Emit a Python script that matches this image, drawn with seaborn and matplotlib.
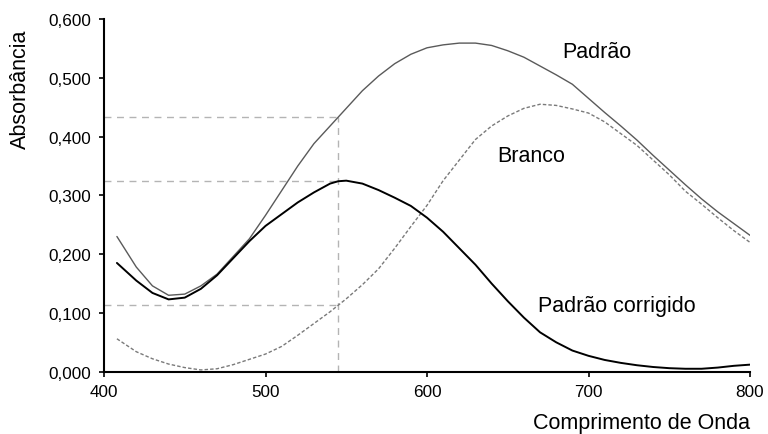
import numpy as np
import pandas as pd
import matplotlib
matplotlib.use("Agg")
import matplotlib.pyplot as plt
import seaborn as sns
from matplotlib.ticker import FuncFormatter

# Wavelength grid (nm)
comprimento = [408, 420, 430, 440, 450, 460, 470, 480, 490, 500, 510, 520, 530, 540,
               545, 550, 560, 570, 580, 590, 600, 610, 620, 630, 640, 650, 660, 670,
               680, 690, 700, 710, 720, 730, 740, 750, 760, 770, 780, 790, 800]

# Absorbance of the standard
padrao = [0.230, 0.178, 0.146, 0.130, 0.132, 0.146, 0.166, 0.196, 0.226, 0.266, 0.308,
          0.350, 0.388, 0.418, 0.433, 0.448, 0.478, 0.503, 0.524, 0.540, 0.551, 0.556,
          0.559, 0.559, 0.555, 0.546, 0.535, 0.520, 0.505, 0.489, 0.465, 0.441, 0.418,
          0.394, 0.368, 0.343, 0.318, 0.294, 0.272, 0.252, 0.232]

# Absorbance of the blank
branco = [0.056, 0.034, 0.022, 0.013, 0.007, 0.003, 0.005, 0.012, 0.021, 0.030, 0.043,
          0.062, 0.082, 0.102, 0.113, 0.124, 0.148, 0.175, 0.210, 0.247, 0.283, 0.325,
          0.360, 0.395, 0.418, 0.435, 0.448, 0.455, 0.453, 0.447, 0.440, 0.425, 0.405,
          0.385, 0.360, 0.335, 0.307, 0.285, 0.262, 0.240, 0.220]

# Blank-corrected standard
corrigido = [0.185, 0.155, 0.134, 0.123, 0.126, 0.141, 0.164, 0.193, 0.222, 0.248, 0.268,
             0.288, 0.305, 0.320, 0.324, 0.325, 0.320, 0.309, 0.296, 0.282, 0.262, 0.238,
             0.210, 0.182, 0.150, 0.120, 0.092, 0.067, 0.050, 0.036, 0.027, 0.020, 0.015,
             0.011, 0.008, 0.006, 0.005, 0.005, 0.007, 0.010, 0.012]

# Wavelength chosen for the reading
lambda_leitura = 545

x_ticks = [400, 500, 600, 700, 800]
y_ticks = [0.0, 0.1, 0.2, 0.3, 0.4, 0.5, 0.6]

sns.set_theme(style="ticks")
plt.rcParams["font.family"] = ["Liberation Sans", "DejaVu Sans"]
plt.rcParams["text.color"] = "black"

df = pd.DataFrame({"comprimento": comprimento, "padrao": padrao,
                   "branco": branco, "corrigido": corrigido})

fig = plt.figure(figsize=(7.68, 4.35), dpi=100)
ax = fig.add_axes([104 / 768, 1 - 372.7 / 435, (750 - 104) / 768, (372.7 - 20) / 435])

# Reference lines at the reading wavelength
i_ref = comprimento.index(lambda_leitura)
ref_vals = [padrao[i_ref], corrigido[i_ref], branco[i_ref]]
ref_kw = dict(color="#b4b4b4", lw=1.0, dashes=(5, 4), zorder=1)
ax.plot([lambda_leitura, lambda_leitura], [0, max(ref_vals)], **ref_kw)
for v in ref_vals:
    ax.plot([400, lambda_leitura], [v, v], **ref_kw)

sns.lineplot(data=df, x="comprimento", y="padrao", ax=ax, color="#5a5a5a", lw=1.0,
             zorder=3)
sns.lineplot(data=df, x="comprimento", y="branco", ax=ax, color="#7a7a7a", lw=1.0,
             zorder=3)
ax.lines[-1].set_dashes((2.5, 1.5))
sns.lineplot(data=df, x="comprimento", y="corrigido", ax=ax, color="black", lw=1.4,
             zorder=4)

ax.set_xlim(400, 800)
ax.set_ylim(0, 0.6)
ax.set_xticks(x_ticks)
ax.set_yticks(y_ticks)
ax.yaxis.set_major_formatter(FuncFormatter(lambda v, p: f"{v:.3f}".replace(".", ",")))
ax.tick_params(direction="out", length=3.6, width=1.2, colors="black",
               labelcolor="black", labelsize=12.3)
ax.tick_params(axis="y", pad=5.5)
ax.tick_params(axis="x", pad=5)
ax.set_xlabel("")
ax.set_ylabel("")
for s in ("top", "right"):
    ax.spines[s].set_visible(False)
for s in ("left", "bottom"):
    ax.spines[s].set_linewidth(1.5)
    ax.spines[s].set_color("black")

# Series labels
label_size = 15.5
fig.text(562 / 768, 1 - 53 / 435, "Padrão", fontsize=label_size, va="center",
         ha="left", color="black")
fig.text(497 / 768, 1 - 156 / 435, "Branco", fontsize=label_size, va="center",
         ha="left", color="black")
fig.text(538 / 768, 1 - 307 / 435, "Padrão corrigido", fontsize=label_size,
         va="center", ha="left", color="black")

# Axis titles
fig.text(20 / 768, 1 - 89 / 435, "Absorbância", rotation=90, fontsize=label_size,
         va="center", ha="center", color="black")
fig.text(750 / 768, 1 - 424 / 435, "Comprimento de Onda", fontsize=label_size,
         va="center", ha="right", color="black")

fig.savefig("out.png", dpi=100)
